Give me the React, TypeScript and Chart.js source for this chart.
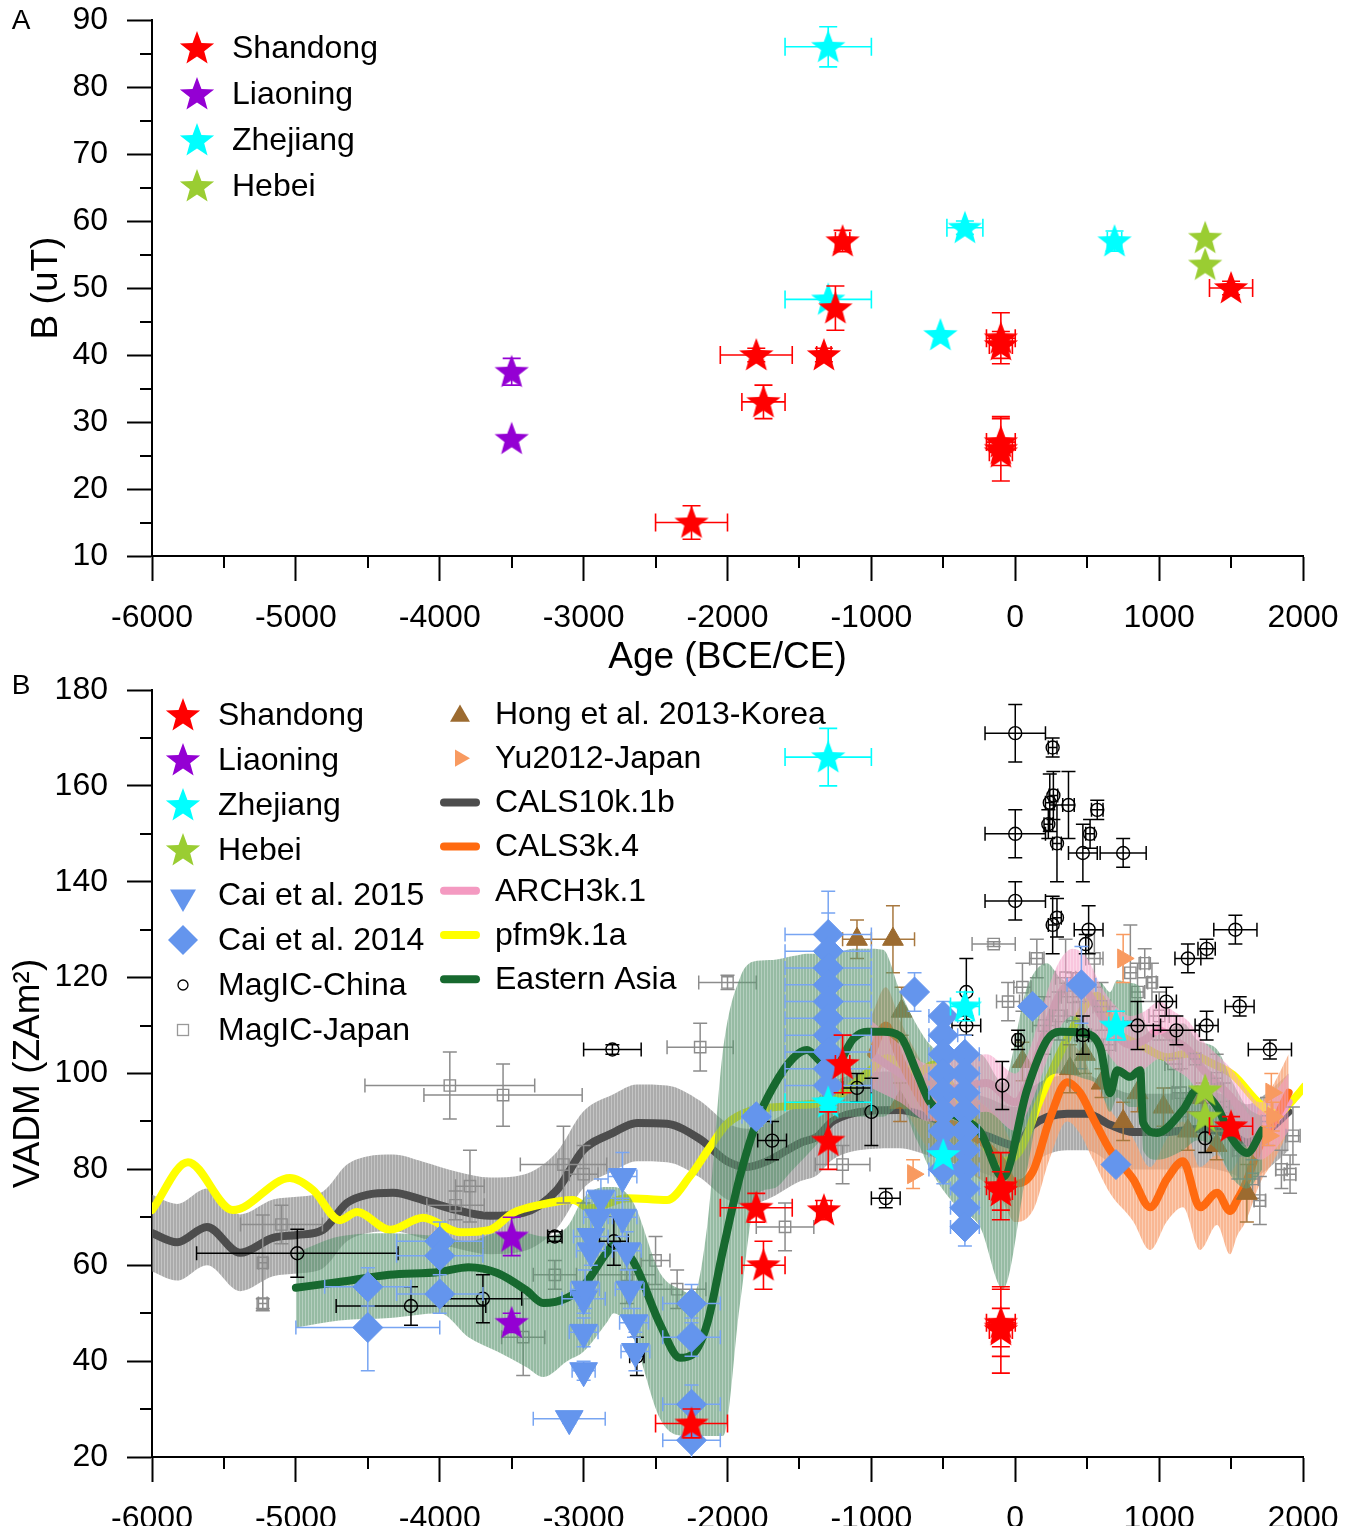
import React, { useEffect, useRef } from 'react';
import { Chart, registerables } from 'chart.js';

Chart.register(...registerables);

const FONT = "'Liberation Sans', Arial, Helvetica, sans-serif";
Chart.defaults.font.family = FONT;

// ---------- axes ----------
const xTickValues = [-6000, -5000, -4000, -3000, -2000, -1000, 0, 1000, 2000];
const xTickLabels = ['-6000', '-5000', '-4000', '-3000', '-2000', '-1000', '0', '1000', '2000'];
const xMinorTicks = [-5500, -4500, -3500, -2500, -1500, -500, 500, 1500];
const yTickValuesA = [10, 20, 30, 40, 50, 60, 70, 80, 90];
const yTickLabelsA = ['10', '20', '30', '40', '50', '60', '70', '80', '90'];
const yMinorTicksA = [15, 25, 35, 45, 55, 65, 75, 85];
const yTickValuesB = [20, 40, 60, 80, 100, 120, 140, 160, 180];
const yTickLabelsB = ['20', '40', '60', '80', '100', '120', '140', '160', '180'];
const yMinorTicksB = [30, 50, 70, 90, 110, 130, 150, 170];

// ---------- panel A: [age, B (uT), age err, B err] ----------
const shandongA = [
  [-2250, 15, 250, 2.5], [-1800, 40, 250, 1], [-1750, 33, 150, 2.5], [-1330, 40, 50, 1],
  [-1200, 57, 50, 1.6], [-1250, 47, 0, 3.3], [-100, 42.5, 100, 3.8], [-100, 41.5, 80, 2],
  [-100, 27, 100, 3.5], [-100, 26, 80, 4.8], [-100, 25.5, 80, 2], [1500, 50, 150, 1],
];
const liaoningA = [[-3500, 37.5, 0, 2], [-3500, 27.5, 0, 0]];
const zhejiangA = [[-1300, 86, 300, 3], [-1300, 48.3, 300, 0.5], [-520, 43, 0, 0], [-350, 59, 125, 1], [690, 57, 50, 1.5]];
const hebeiA = [[1320, 57.5, 0, 0], [1320, 53.5, 0, 0]];

// ---------- panel B: [age, VADM, age err, VADM err] ----------
const shandongB = [
  [-2250, 27, 250, 3], [-1800, 72, 250, 3], [-1750, 60, 150, 5], [-1330, 71.5, 50, 2],
  [-1200, 102, 50, 6], [-1300, 86, 0, 6], [-100, 76.5, 100, 7], [-100, 75.5, 80, 4],
  [-100, 48, 100, 7], [-100, 46.5, 80, 9], [-100, 47, 80, 4], [1500, 89, 150, 2],
];
const liaoningB = [[-3500, 66, 0, 4], [-3500, 48, 0, 2]];
const zhejiangB = [[-1300, 166, 300, 6], [-1300, 94, 300, 1], [-500, 83, 0, 0], [-350, 114, 100, 3], [700, 110, 50, 3]];
const hebeiB = [[1320, 96.5, 0, 0], [1320, 91, 0, 0]];
const cai2015 = [
  [-3100, 28, 250, 1], [-3000, 38, 80, 2], [-3000, 46, 100, 3], [-3000, 53, 150, 3], [-2990, 55, 100, 4],
  [-2950, 63, 100, 3], [-2950, 66, 120, 4], [-2900, 70, 100, 4], [-2880, 74, 100, 4], [-2730, 78.5, 100, 5],
  [-2730, 70, 100, 4], [-2700, 63, 100, 4], [-2680, 55, 100, 4], [-2650, 48, 100, 3], [-2640, 42, 100, 4],
];
const cai2014 = [
  [-4500, 47, 500, 9], [-4500, 55.5, 300, 4], [-4000, 65, 300, 4], [-4000, 62, 300, 4], [-4000, 54, 300, 4],
  [-2250, 52, 200, 4], [-2250, 45, 200, 4], [-2250, 31, 200, 4], [-2250, 23.5, 200, 4], [-1800, 91, 100, 2],
  [-1300, 129, 300, 9], [-1300, 125.5, 300, 8], [-1300, 122, 300, 6], [-1300, 118.5, 300, 6], [-1300, 115, 300, 5],
  [-1300, 111.5, 300, 5], [-1300, 108, 300, 5], [-1300, 104.5, 300, 5], [-1300, 101, 300, 4], [-1300, 97.5, 300, 4],
  [-700, 117, 0, 4], [-500, 112, 100, 3], [-500, 108, 100, 3], [-500, 104, 100, 3], [-500, 100, 100, 3],
  [-500, 96, 100, 3], [-500, 92, 100, 3], [-500, 88, 100, 3], [-500, 84, 100, 3], [-500, 80, 100, 3],
  [-350, 104, 100, 4], [-350, 100, 100, 4], [-350, 96, 100, 4], [-350, 92, 100, 4], [-350, 88, 100, 4],
  [-350, 84, 100, 4], [-350, 80, 100, 4], [-350, 76, 100, 4], [-350, 72, 100, 4], [-350, 68, 100, 4],
  [120, 114, 0, 0], [460, 118.5, 100, 8], [700, 81, 0, 0],
];
const magicChina = [
  [-4990, 62.5, 700, 5], [-4200, 51.5, 520, 4], [-3700, 53, 270, 5], [-3200, 66, 50, 1], [-2800, 105, 200, 1],
  [-2790, 65, 100, 5], [-2630, 41, 50, 4], [-1690, 86, 100, 4], [-1100, 97, 100, 3], [-1000, 92, 0, 7],
  [-900, 74, 100, 2], [-340, 117, 0, 7], [-340, 110, 100, 2], [-90, 97.5, 0, 5], [0, 171, 210, 6],
  [0, 150, 210, 5], [0, 136, 210, 4], [20, 107, 20, 2], [260, 168, 30, 2], [240, 156.5, 30, 6],
  [265, 158, 30, 5], [230, 152, 30, 3], [290, 148, 30, 8], [370, 156, 40, 7], [570, 155, 40, 2],
  [520, 150, 30, 3], [470, 146, 100, 6], [750, 146, 160, 3], [260, 131, 30, 6], [290, 132.5, 30, 4],
  [510, 130, 100, 5], [490, 127, 0, 2], [1530, 130, 150, 3], [1200, 124, 90, 3], [1330, 126, 60, 2],
  [1050, 115, 70, 3], [1560, 114, 100, 2], [850, 110, 160, 5], [1120, 109, 160, 3], [1330, 110, 80, 3],
  [1770, 105, 150, 2], [1320, 86.5, 0, 3], [470, 108, 40, 4],
];
const magicJapan = [
  [-5230, 60.5, 30, 10], [-5230, 52, 30, 1], [-5100, 68.5, 285, 4], [-3930, 97.5, 590, 7], [-3560, 95.5, 550, 6.5],
  [-3790, 76.5, 100, 7.5], [-3890, 72.5, 200, 3], [-3140, 81, 300, 8], [-3000, 79, 100, 6], [-3200, 58, 150, 3],
  [-3420, 45, 150, 8], [-2700, 58, 200, 6], [-2500, 61, 100, 5], [-2350, 55, 200, 4], [-2190, 105.5, 230, 5],
  [-2000, 119, 200, 1.5], [-1600, 68, 200, 5], [-1200, 81, 190, 4], [-150, 127, 150, 0.5], [-50, 115, 80, 4],
  [50, 118, 60, 5], [150, 124, 50, 4], [200, 110, 80, 6], [300, 112, 60, 5], [350, 120, 70, 8],
  [400, 116, 80, 5], [450, 108, 80, 7], [550, 124, 60, 6], [600, 114, 60, 5], [650, 106, 50, 8],
  [800, 121, 50, 10], [850, 117, 50, 6], [900, 123, 30, 3], [950, 119, 30, 4], [1000, 112, 70, 5],
  [1100, 102, 60, 5], [1150, 96, 60, 5], [1250, 103, 40, 6], [1400, 99, 40, 5], [1450, 93, 40, 5],
  [1550, 84, 40, 6], [1650, 78, 40, 4], [1700, 73.5, 40, 5], [1850, 80, 40, 4], [1910, 79, 40, 4],
  [1930, 87, 50, 6], [1750, 90, 40, 5],
];
const hongKorea = [
  [-1100, 128, 100, 4], [-850, 128, 150, 7], [-790, 113, 0, 5], [-800, 94, 0, 4], [50, 102.5, 0, 4],
  [380, 101, 0, 5], [485, 104, 0, 4], [600, 98, 0, 3], [750, 90, 0, 4], [850, 96, 0, 4],
  [1030, 93, 0, 4], [1200, 88, 0, 4], [1300, 95, 0, 3], [1400, 85, 0, 3], [1610, 75, 0, 6],
];
const yuJapan = [[-710, 79, 0, 3], [750, 124, 0, 5], [1780, 96, 0, 4], [1790, 91, 40, 3], [1760, 87, 0, 2]];

// ---------- models ----------
const xCals10k = [-6000, -5826, -5618, -5388, -5159, -4992, -4811, -4645, -4506, -4325, -4116, -3880, -3651, -3421, -3185, -3004, -2796, -2629, -2420, -2191, -2003, -1864, -1725, -1496, -1378, -1266, -1030, -801, -613, -400, -200, 0, 124, 360, 499, 659, 819, 1055, 1284, 1514, 1611, 1750, 1900];
const meanCals10k = [66.7, 64.8, 68, 62.6, 65.7, 66.3, 67.4, 73, 74.7, 75.1, 73.6, 71.5, 70.3, 70.9, 75.7, 84, 87.6, 89.7, 89.5, 86.3, 81.7, 80.5, 81.7, 85.5, 86.8, 90.1, 92.2, 92.4, 91, 89, 87, 85, 89.3, 91.6, 91.6, 89.3, 87.8, 87.8, 88.4, 87, 85.6, 88, 92];
const lowCals10k = [58.7, 56.8, 60, 54.6, 57.7, 58.3, 59.4, 65, 66.7, 67.1, 65.6, 63.5, 62.3, 62.9, 67.7, 76, 79.6, 81.7, 81.5, 78.3, 73.7, 72.5, 73.7, 77.5, 78.8, 82.1, 84.2, 84.4, 83, 81, 79, 77, 81.3, 84, 84, 81.5, 80, 80, 80.4, 79, 77.6, 80, 84];
const highCals10k = [74.7, 72.8, 76, 70.6, 73.7, 74.3, 75.4, 81, 82.7, 83.1, 81.6, 79.5, 78.3, 78.9, 83.7, 92, 95.6, 97.7, 97.5, 94.3, 89.7, 88.5, 89.7, 93.5, 94.8, 98.1, 100.2, 100.4, 99, 97, 95, 93, 97.3, 99.6, 99.6, 97.3, 95.8, 95.8, 96.4, 95, 93.6, 96, 100];

const xCals3k = [-1000, -900, -800, -700, -600, -500, -400, -300, -200, -100, 0, 124, 242, 360, 450, 541, 659, 819, 937, 1055, 1166, 1284, 1403, 1493, 1542, 1600, 1700, 1800, 1900];
const meanCals3k = [104, 110, 103, 97, 92, 90, 89, 87, 85, 82, 77, 79.7, 90.7, 98.2, 96, 90.7, 84, 78, 72.1, 78, 81.7, 72.1, 75.1, 71.3, 73.6, 77, 85, 90, 96];
const lowCals3k = [96, 102, 95, 89, 84, 82, 81, 79, 77, 74, 69, 71.5, 82.5, 90, 87.5, 82, 75, 69.2, 63.2, 69.2, 72.1, 63.2, 68.4, 62.3, 66.1, 69, 77, 82, 88];
const highCals3k = [112, 118, 111, 105, 100, 98, 97, 95, 93, 90, 85, 88, 99, 106.5, 104.5, 99, 92.5, 86.5, 80.5, 86.5, 90, 80.5, 83, 79.5, 81.5, 85, 93, 98, 104];

const xArch = [-1000, -800, -600, -400, -200, 0, 100, 200, 300, 400, 500, 600, 700, 800, 900, 1000, 1100, 1200, 1300, 1400, 1500, 1600, 1700, 1800, 1900];
const meanArch = [104, 100, 96, 97, 98, 94, 99, 108, 116, 119, 117, 112, 108, 106, 107, 109, 107, 105, 101, 98, 95, 91, 88, 90, 94];
const lowArch = [97, 94, 90, 91, 92, 88, 93, 101, 109, 112, 110, 106, 102, 100, 101, 103, 101, 99, 95, 92, 89, 85, 82, 84, 88];
const highArch = [111, 106, 102, 103, 104, 100, 105, 115, 123, 126, 124, 118, 114, 112, 113, 115, 113, 111, 107, 104, 101, 97, 94, 96, 100];

const xPfm = [-6000, -5750, -5437, -5041, -4881, -4693, -4575, -4346, -4116, -3859, -3651, -3491, -3303, -3074, -2956, -2698, -2420, -2260, -2121, -2003, -1843, -1586, -1266, -1030, -891, -683, -571, -400, -250, -106, 33, 172, 360, 569, 708, 868, 1055, 1194, 1375, 1514, 1702, 1820, 1931, 2014];
const meanPfm = [71.5, 81.5, 71.5, 78.2, 75.7, 69.4, 71.1, 67.4, 69.9, 66.9, 67.4, 70.9, 72.6, 73.6, 71.9, 74, 73.6, 78.6, 84.7, 89.5, 92.2, 93.2, 94.7, 100.1, 103.2, 100.1, 101.8, 95, 87, 81.7, 84, 94.5, 107.2, 116.2, 108.7, 106, 103.4, 104.1, 102, 99.7, 93.6, 91.6, 94.5, 97.4];

const xEastAsia = [-5000, -4700, -4350, -4000, -3800, -3600, -3400, -3280, -3115, -3000, -2840, -2790, -2657, -2469, -2330, -2239, -2142, -2031, -1913, -1795, -1683, -1544, -1447, -1357, -1266, -1127, -1030, -919, -801, -683, -592, -400, -245, -85, 82, 221, 311, 471, 590, 659, 708, 798, 868, 889, 986, 1166, 1264, 1403, 1514, 1611, 1716];
const meanEastAsia = [55.3, 56.5, 58, 58.6, 59.6, 58.4, 54.8, 52.1, 53.2, 55.7, 62.6, 64.2, 60.9, 47.7, 40.7, 41.5, 47.7, 63.2, 78.6, 90.1, 97.2, 103.2, 104.9, 102.6, 100.9, 107.2, 108.7, 108.7, 107.8, 100.1, 94, 91, 87.9, 78.4, 96.6, 107, 108.7, 108.4, 105.5, 95.9, 100.7, 99.3, 100.7, 89.7, 87.6, 92.4, 96.6, 93, 86.1, 83.4, 88.2];
const lowEastAsia = [47, 48.5, 49, 50, 45, 42, 38.8, 36.7, 40, 42, 48, 50, 45, 28, 24.5, 24.4, 24.4, 24.4, 52, 74.7, 76, 80, 83, 86, 90, 91, 91, 91, 93, 86, 80, 72, 68, 55, 80, 99, 100, 99, 97, 92, 95, 93, 93, 84, 82, 84, 86, 84, 78, 76, 80];
const highEastAsia = [62.6, 66, 66.7, 66, 65, 66.7, 66.7, 66, 68, 74, 76.3, 76.3, 73.2, 58.4, 55, 54, 68, 105, 120, 123.5, 123.7, 124.5, 125, 125, 125, 126, 126, 125.8, 117.2, 110, 106, 103, 104, 98, 118, 123, 120, 118, 119, 117, 119.5, 118.9, 118, 112, 108, 110.5, 107, 105, 98, 93, 91];

// ---------- colours ----------
const RED = '#ff0000';
const PURPLE = '#9400d3';
const CYAN = '#00ffff';
const HEBEI = '#9acd32';
const BLUE = '#6495ed';
const BROWN = '#9c6b30';
const SALMON = '#f89a60';

// ---------- helpers ----------
const toPts = (rows: number[][]) => rows.map(([x, y, xe, ye]) => ({ x, y, xe, ye }));
const toLine = (xs: number[], ys: number[]) => xs.map((x, i) => ({ x, y: ys[i] }));

const starCache: Record<string, HTMLCanvasElement> = {};
function starImage(color: string, R = 18) {
  const key = color + R;
  if (starCache[key]) return starCache[key];
  const c = document.createElement('canvas');
  const s = Math.ceil(2 * R + 2);
  c.width = s;
  c.height = s;
  const g = c.getContext('2d')!;
  g.fillStyle = color;
  g.beginPath();
  for (let i = 0; i < 10; i++) {
    const r = i % 2 === 0 ? R : R * 0.42;
    const a = -Math.PI / 2 + (i * Math.PI) / 5;
    g.lineTo(s / 2 + r * Math.cos(a), s / 2 + 1 + r * Math.sin(a));
  }
  g.closePath();
  g.fill();
  starCache[key] = c;
  return c;
}

// vertical-hatch fill, like the original's dense vertical error lines
function hatch(r: number, g: number, b: number, a: number) {
  const c = document.createElement('canvas');
  c.width = 3;
  c.height = 4;
  const x = c.getContext('2d')!;
  x.fillStyle = `rgba(${r},${g},${b},${a})`;
  x.fillRect(0, 0, 2, 4);
  x.fillStyle = `rgba(${r},${g},${b},${a * 0.7})`;
  x.fillRect(2, 0, 1, 4);
  return x.createPattern(c, 'repeat');
}

const errorBarsPlugin = {
  id: 'errorBars',
  beforeDatasetDraw(chart: any, args: any) {
    const ds = chart.data.datasets[args.index];
    if (!ds.errColor) return;
    const { ctx, chartArea: a, scales } = chart;
    const xs = scales.x;
    const ys = scales.y;
    const cap = ds.errCap || 7;
    ctx.save();
    ctx.beginPath();
    ctx.rect(a.left, a.top, a.right - a.left, a.bottom - a.top);
    ctx.clip();
    ctx.strokeStyle = ds.errColor;
    ctx.lineWidth = ds.errWidth || 1.5;
    ctx.beginPath();
    for (const p of ds.data) {
      const px = xs.getPixelForValue(p.x);
      const py = ys.getPixelForValue(p.y);
      if (p.xe) {
        const l = xs.getPixelForValue(p.x - p.xe);
        const r = xs.getPixelForValue(p.x + p.xe);
        ctx.moveTo(l, py); ctx.lineTo(r, py);
        ctx.moveTo(l, py - cap); ctx.lineTo(l, py + cap);
        ctx.moveTo(r, py - cap); ctx.lineTo(r, py + cap);
      }
      if (p.ye) {
        const t = ys.getPixelForValue(p.y + p.ye);
        const b = ys.getPixelForValue(p.y - p.ye);
        ctx.moveTo(px, t); ctx.lineTo(px, b);
        ctx.moveTo(px - cap, t); ctx.lineTo(px + cap, t);
        ctx.moveTo(px - cap, b); ctx.lineTo(px + cap, b);
      }
    }
    ctx.stroke();
    ctx.restore();
  },
};

const minorTicksPlugin = (xm: number[], ym: number[]) => ({
  id: 'minorTicks',
  afterDraw(chart: any) {
    const { ctx, chartArea: a, scales } = chart;
    ctx.save();
    ctx.strokeStyle = '#000';
    ctx.lineWidth = 2;
    ctx.beginPath();
    xm.forEach((v) => {
      const px = Math.round(scales.x.getPixelForValue(v));
      ctx.moveTo(px, a.bottom);
      ctx.lineTo(px, a.bottom + 12);
    });
    ym.forEach((v) => {
      const py = Math.round(scales.y.getPixelForValue(v));
      ctx.moveTo(a.left - 12, py);
      ctx.lineTo(a.left, py);
    });
    ctx.stroke();
    ctx.restore();
  },
});

function polygon(ctx: CanvasRenderingContext2D, cx: number, cy: number, r: number, n: number, rot: number) {
  ctx.beginPath();
  for (let i = 0; i < n; i++) {
    const a = rot + (i * 2 * Math.PI) / n;
    ctx.lineTo(cx + r * Math.sin(a), cy - r * Math.cos(a));
  }
  ctx.closePath();
}

function drawMarker(ctx: CanvasRenderingContext2D, kind: string, color: string, cx: number, cy: number) {
  ctx.save();
  ctx.fillStyle = color;
  ctx.strokeStyle = color;
  if (kind === 'star') {
    const img = starImage(color);
    ctx.drawImage(img, cx - img.width / 2, cy - img.height / 2);
  } else if (kind === 'triDown') {
    polygon(ctx, cx, cy + 2, 15, 3, Math.PI);
    ctx.fill();
  } else if (kind === 'triUp') {
    polygon(ctx, cx, cy + 2, 11.5, 3, 0);
    ctx.fill();
  } else if (kind === 'triRight') {
    polygon(ctx, cx, cy, 10, 3, Math.PI / 2);
    ctx.fill();
  } else if (kind === 'diamond') {
    polygon(ctx, cx, cy, 15, 4, 0);
    ctx.fill();
  } else if (kind === 'circle') {
    ctx.lineWidth = 1.3;
    ctx.beginPath();
    ctx.arc(cx, cy, 5, 0, Math.PI * 2);
    ctx.stroke();
  } else if (kind === 'square') {
    ctx.lineWidth = 1.3;
    ctx.strokeRect(cx - 5.5, cy - 5.5, 11, 11);
  } else if (kind === 'line') {
    ctx.lineWidth = 8;
    ctx.lineCap = 'round';
    ctx.beginPath();
    ctx.moveTo(cx - 16, cy);
    ctx.lineTo(cx + 16, cy);
    ctx.stroke();
  }
  ctx.restore();
}

type LegendCol = { x: number; y0: number; dy: number; items: [string, string, string][] };
const legendPlugin = (cols: LegendCol[], letter: { text: string; x: number; y: number }) => ({
  id: 'customLegend',
  afterDraw(chart: any) {
    const ctx: CanvasRenderingContext2D = chart.ctx;
    ctx.save();
    ctx.textBaseline = 'middle';
    ctx.fillStyle = '#000';
    ctx.font = `28px ${FONT}`;
    ctx.textAlign = 'center';
    ctx.fillText(letter.text, letter.x, letter.y);
    ctx.textAlign = 'left';
    ctx.font = `32px ${FONT}`;
    cols.forEach((col) => {
      col.items.forEach(([label, kind, color], i) => {
        const cy = col.y0 + i * col.dy;
        drawMarker(ctx, kind, color, col.x, cy);
        ctx.fillStyle = '#000';
        ctx.fillText(label, col.x + 35, cy + 1);
      });
    });
    ctx.restore();
  },
});

const starDs = (label: string, rows: number[][], color: string, order: number) => ({
  type: 'scatter',
  label,
  data: toPts(rows),
  pointStyle: starImage(color),
  pointRadius: 18,
  errColor: color,
  errWidth: 1.6,
  errCap: 9,
  order,
});

const markerDs = (label: string, rows: number[][], o: any) => ({
  type: 'scatter',
  label,
  data: toPts(rows),
  errWidth: 1.5,
  errCap: 7,
  ...o,
});

const lineDs = (label: string, xs: number[], ys: number[], color: string, order: number) => ({
  type: 'line',
  label,
  data: toLine(xs, ys),
  borderColor: color,
  borderWidth: 8,
  pointRadius: 0,
  fill: false,
  cubicInterpolationMode: 'monotone',
  borderCapStyle: 'round',
  borderJoinStyle: 'round',
  order,
});

const bandDs = (label: string, xs: number[], lo: number[], hi: number[], fill: any, order: number) => [
  {
    type: 'line',
    label: label + ' low',
    data: toLine(xs, lo),
    borderColor: 'transparent',
    borderWidth: 1,
    pointRadius: 0,
    fill: false,
    cubicInterpolationMode: 'monotone',
    order,
  },
  {
    type: 'line',
    label: label + ' high',
    data: toLine(xs, hi),
    borderColor: 'transparent',
    borderWidth: 1,
    pointRadius: 0,
    fill: '-1',
    backgroundColor: fill,
    cubicInterpolationMode: 'monotone',
    order,
  },
];

const tickFont = { size: 32, family: FONT };

function xScale(withTitle: boolean, height: number) {
  return {
    type: 'linear',
    min: -6000,
    max: 2000,
    afterBuildTicks: (s: any) => {
      s.ticks = xTickValues.map((v) => ({ value: v }));
    },
    ticks: {
      callback: (v: number) => xTickLabels[xTickValues.indexOf(v)] ?? '',
      font: tickFont,
      color: '#000',
      padding: 18,
      maxRotation: 0,
      autoSkip: false,
    },
    grid: { display: true, drawOnChartArea: false, drawTicks: true, tickLength: 25, tickWidth: 2, tickColor: '#000' },
    border: { display: true, color: '#000', width: 2 },
    title: {
      display: withTitle,
      text: 'Age (BCE/CE)',
      font: { size: 37, family: FONT },
      color: '#000',
      padding: { top: 0, bottom: 6 },
    },
    afterFit: (s: any) => {
      s.height = height;
      s.paddingLeft = 0;
      s.paddingRight = 0;
    },
  };
}

function yScale(min: number, max: number, values: number[], labels: string[], title: string, titlePad: number) {
  return {
    type: 'linear',
    min,
    max,
    afterBuildTicks: (s: any) => {
      s.ticks = values.map((v) => ({ value: v }));
    },
    ticks: {
      callback: (v: number) => labels[values.indexOf(v)] ?? '',
      font: tickFont,
      color: '#000',
      padding: 19,
      autoSkip: false,
    },
    grid: { display: true, drawOnChartArea: false, drawTicks: true, tickLength: 25, tickWidth: 2, tickColor: '#000' },
    border: { display: true, color: '#000', width: 2 },
    title: {
      display: true,
      text: title,
      font: { size: 37, family: FONT },
      color: '#000',
      padding: { top: titlePad, bottom: 0 },
    },
    afterFit: (s: any) => {
      s.width = 152;
      s.paddingTop = 0;
      s.paddingBottom = 0;
    },
  };
}

const baseOptions = {
  animation: false,
  responsive: false,
  devicePixelRatio: 1,
  plugins: { legend: { display: false }, tooltip: { enabled: false } },
};

function configA(): any {
  return {
    type: 'scatter',
    data: {
      datasets: [
        starDs('Shandong', shandongA, RED, 1),
        starDs('Liaoning', liaoningA, PURPLE, 2),
        starDs('Zhejiang', zhejiangA, CYAN, 1),
        starDs('Hebei', hebeiA, HEBEI, 2),
      ],
    },
    options: {
      ...baseOptions,
      layout: { padding: { left: 0, top: 20, right: 56, bottom: 0 } },
      scales: {
        x: xScale(true, 130),
        y: yScale(10, 90, yTickValuesA, yTickLabelsA, 'B (uT)', 25),
      },
    },
    plugins: [
      errorBarsPlugin,
      minorTicksPlugin(xMinorTicks, yMinorTicksA),
      legendPlugin(
        [
          {
            x: 197,
            y0: 48,
            dy: 46,
            items: [
              ['Shandong', 'star', RED],
              ['Liaoning', 'star', PURPLE],
              ['Zhejiang', 'star', CYAN],
              ['Hebei', 'star', HEBEI],
            ],
          },
        ],
        { text: 'A', x: 21, y: 21 }
      ),
    ],
  };
}

function configB(): any {
  return {
    type: 'scatter',
    data: {
      datasets: [
        starDs('Shandong', shandongB, RED, 1),
        starDs('Liaoning', liaoningB, PURPLE, 1),
        starDs('Zhejiang', zhejiangB, CYAN, 1),
        starDs('Hebei', hebeiB, HEBEI, 1),
        markerDs('Cai et al. 2015', cai2015, {
          pointStyle: 'triangle', pointRotation: 180, pointRadius: 16,
          pointBackgroundColor: BLUE, pointBorderColor: BLUE, pointBorderWidth: 1,
          errColor: '#78a5f2', order: 3,
        }),
        markerDs('Cai et al. 2014', cai2014, {
          pointStyle: 'rectRot', pointRadius: 15,
          pointBackgroundColor: BLUE, pointBorderColor: BLUE, pointBorderWidth: 1,
          errColor: '#78a5f2', order: 3,
        }),
        markerDs('Yu2012-Japan', yuJapan, {
          pointStyle: 'triangle', pointRotation: 90, pointRadius: 11,
          pointBackgroundColor: SALMON, pointBorderColor: SALMON, pointBorderWidth: 1,
          errColor: SALMON, order: 4,
        }),
        markerDs('MagIC-China', magicChina, {
          pointStyle: 'circle', pointRadius: 6.5,
          pointBackgroundColor: 'rgba(0,0,0,0)', pointBorderColor: '#000', pointBorderWidth: 1.4,
          errColor: '#000', order: 5,
        }),
        lineDs('Eastern Asia', xEastAsia, meanEastAsia, '#17692f', 10),
        ...bandDs('ARCH3k.1 band', xArch, lowArch, highArch, hatch(245, 160, 200, 0.6), 12),
        ...bandDs('Eastern Asia band', xEastAsia, lowEastAsia, highEastAsia, hatch(96, 152, 116, 0.66), 13),
        markerDs('Hong et al. 2013-Korea', hongKorea, {
          pointStyle: 'triangle', pointRadius: 12,
          pointBackgroundColor: BROWN, pointBorderColor: BROWN, pointBorderWidth: 1,
          errColor: '#a8783f', order: 13.5,
        }),
        markerDs('MagIC-Japan', magicJapan, {
          pointStyle: 'rect', pointRadius: 8,
          pointBackgroundColor: 'rgba(0,0,0,0)', pointBorderColor: '#8c8c8c', pointBorderWidth: 1.4,
          errColor: '#8c8c8c', order: 14,
        }),
        lineDs('CALS3k.4', xCals3k, meanCals3k, '#ff6a10', 14.5),
        lineDs('ARCH3k.1', xArch, meanArch, '#f49ac1', 15),
        lineDs('pfm9k.1a', xPfm, meanPfm, '#ffff00', 15),
        lineDs('CALS10k.1b', xCals10k, meanCals10k, '#4d4d4d', 16),
        ...bandDs('CALS3k.4 band', xCals3k, lowCals3k, highCals3k, hatch(248, 165, 120, 0.8), 17),
        ...bandDs('CALS10k.1b band', xCals10k, lowCals10k, highCals10k, hatch(150, 150, 150, 0.8), 18),
      ],
    },
    options: {
      ...baseOptions,
      layout: { padding: { left: 0, top: 50, right: 56, bottom: 0 } },
      scales: {
        x: xScale(false, 69),
        y: yScale(20, 180, yTickValuesB, yTickLabelsB, 'VADM (ZAm²)', 7),
      },
    },
    plugins: [
      errorBarsPlugin,
      minorTicksPlugin(xMinorTicks, yMinorTicksB),
      legendPlugin(
        [
          {
            x: 183,
            y0: 75,
            dy: 45,
            items: [
              ['Shandong', 'star', RED],
              ['Liaoning', 'star', PURPLE],
              ['Zhejiang', 'star', CYAN],
              ['Hebei', 'star', HEBEI],
              ['Cai et al. 2015', 'triDown', BLUE],
              ['Cai et al. 2014', 'diamond', BLUE],
              ['MagIC-China', 'circle', '#000'],
              ['MagIC-Japan', 'square', '#999'],
            ],
          },
          {
            x: 460,
            y0: 74,
            dy: 44.2,
            items: [
              ['Hong et al. 2013-Korea', 'triUp', BROWN],
              ['Yu2012-Japan', 'triRight', SALMON],
              ['CALS10k.1b', 'line', '#4d4d4d'],
              ['CALS3k.4', 'line', '#ff6a10'],
              ['ARCH3k.1', 'line', '#f49ac1'],
              ['pfm9k.1a', 'line', '#ffff00'],
              ['Eastern Asia', 'line', '#17692f'],
            ],
          },
        ],
        { text: 'B', x: 21, y: 46 }
      ),
    ],
  };
}

export default function App() {
  const refA = useRef<HTMLCanvasElement>(null);
  const refB = useRef<HTMLCanvasElement>(null);
  useEffect(() => {
    const a = new Chart(refA.current!, configA());
    const b = new Chart(refB.current!, configB());
    return () => {
      a.destroy();
      b.destroy();
    };
  }, []);
  return (
    <div style={{ position: 'absolute', left: 0, top: 0, width: 1359, height: 1526, background: '#fff', overflow: 'hidden' }}>
      <canvas ref={refA} width={1359} height={686} style={{ position: 'absolute', left: 0, top: 0, width: 1359, height: 686 }} />
      <canvas ref={refB} width={1359} height={886} style={{ position: 'absolute', left: 0, top: 640, width: 1359, height: 886 }} />
    </div>
  );
}
